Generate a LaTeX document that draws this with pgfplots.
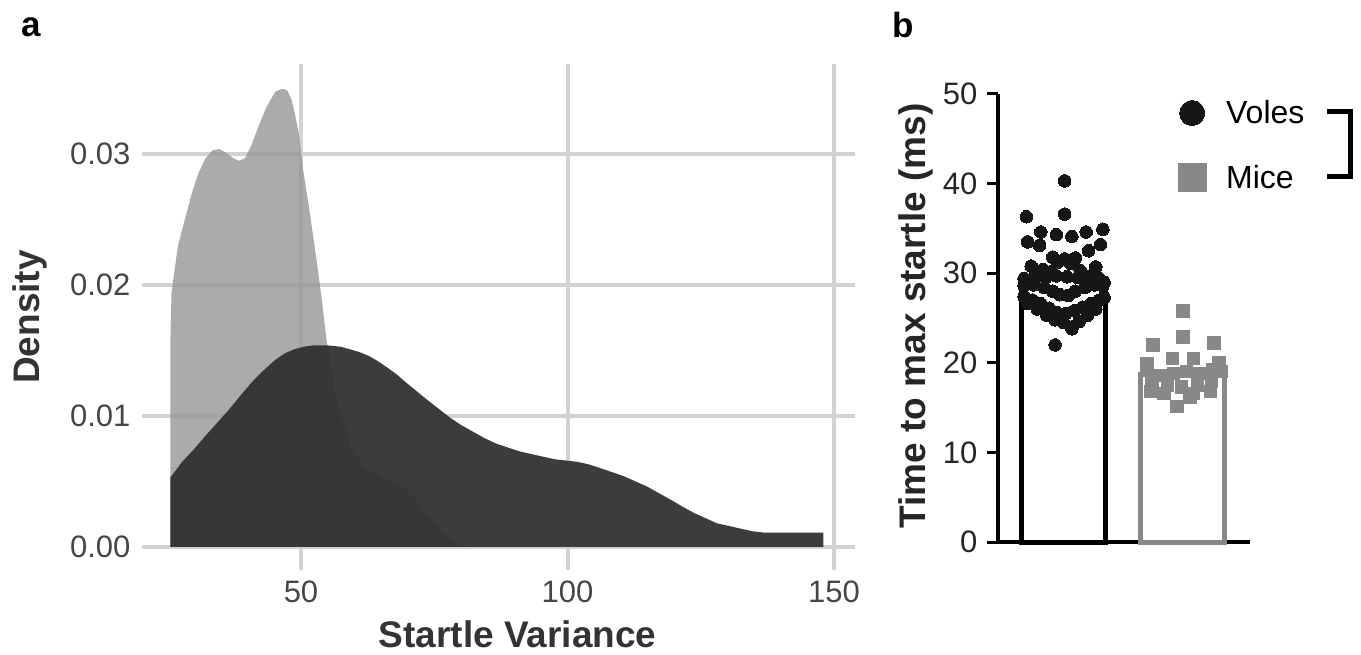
\documentclass[border=0pt]{standalone}
\usepackage{fontspec}
\setmainfont{Liberation Sans}
\usepackage{pgfplots}
\pgfplotsset{compat=1.18}
\definecolor{gridc}{RGB}{210,210,210}
\definecolor{lightf}{RGB}{150,150,150}
\definecolor{darkf}{RGB}{50,50,50}
\definecolor{ticktxt}{RGB}{70,70,70}
\definecolor{titletxt}{RGB}{51,51,51}
\definecolor{micegray}{RGB}{136,136,136}
\definecolor{voleblack}{RGB}{22,22,22}
\newcommand{\tickfont}{\fontsize{31}{36}\selectfont}
\newcommand{\titlefont}{\fontsize{37}{42}\selectfont\bfseries}

\pgfplotstableread{
x y
25.5 0.0000
25.5 0.0158
25.7 0.0194
26.9 0.0230
28.2 0.0250
29.5 0.0270
30.8 0.0286
32.1 0.0297
33.4 0.0303
34.7 0.0304
36.0 0.0301
37.3 0.0297
38.4 0.0295
39.5 0.0297
40.8 0.0308
42.1 0.0322
43.5 0.0336
45.2 0.0348
46.5 0.0350
47.4 0.0349
48.2 0.0342
48.7 0.0334
49.6 0.0316
50.4 0.0288
51.3 0.0265
52.2 0.0240
53.1 0.0214
53.9 0.0189
54.8 0.0158
55.6 0.0138
56.5 0.0118
57.8 0.0097
59.2 0.0079
60.5 0.0069
61.8 0.0062
64.0 0.0056
66.1 0.0051
69.6 0.0044
71.4 0.0037
73.1 0.0029
75.0 0.0019
76.6 0.0011
78.5 0.0004
80.1 0.0001
82.0 0.0000
}\micetable

\pgfplotstableread{
x y
25.5 0.0000
25.5 0.0053
27.7 0.0065
30.0 0.0075
32.1 0.0085
34.3 0.0095
36.5 0.0105
38.7 0.0116
40.8 0.0126
43.0 0.0135
45.2 0.0143
47.0 0.0148
48.7 0.0151
50.5 0.0153
52.2 0.0154
55.0 0.0154
57.4 0.0153
59.2 0.0151
60.9 0.0149
62.7 0.0146
64.4 0.0142
66.2 0.0137
67.9 0.0132
69.6 0.0126
71.4 0.0120
73.5 0.0113
75.7 0.0106
77.9 0.0099
80.1 0.0093
82.3 0.0088
84.5 0.0083
86.6 0.0079
88.8 0.0076
91.0 0.0073
93.2 0.0071
95.4 0.0069
97.6 0.0067
99.8 0.0066
101.9 0.0065
104.1 0.0063
106.3 0.0060
108.5 0.0057
110.6 0.0054
112.8 0.0050
115.0 0.0046
117.2 0.0041
119.4 0.0036
121.5 0.0031
123.7 0.0026
125.9 0.0022
128.1 0.0018
130.3 0.0016
132.5 0.0014
134.7 0.0012
136.8 0.0011
141.2 0.0011
148.0 0.0011
148.0 0.0000
}\volestable

\begin{document}
\begin{tikzpicture}[x=1pt,y=1pt]
\useasboundingbox (0,0) rectangle (1361,654);
\node[anchor=base west, font=\fontsize{35}{40}\selectfont\bfseries, inner sep=0pt] at (21,617) {a};
\node[anchor=base west, font=\fontsize{35}{40}\selectfont\bfseries, inner sep=0pt] at (892,616) {b};

\begin{axis}[at={(142pt,84pt)}, anchor=south west, scale only axis,
  width=713pt, height=506pt,
  xmin=20.17, xmax=153.94, ymin=-0.00176, ymax=0.0369,
  axis line style={draw=none}, major tick length=0pt,
  xtick={50,100,150}, ytick={0,0.01,0.02,0.03},
  yticklabels={0.00,0.01,0.02,0.03},
  scaled y ticks=false,
  grid=major, major grid style={line width=4pt, color=gridc},
  tick label style={font=\tickfont, text=ticktxt},
  /pgf/number format/assume math mode=true,
  xticklabel style={yshift=-7pt},
  yticklabel style={xshift=-8pt},
  xlabel={Startle Variance}, ylabel={Density},
  every axis x label/.style={at={(axis description cs:0.527,-0.154)}, anchor=base, font=\titlefont, text=titletxt},
  every axis y label/.style={at={(axis description cs:-0.144,0.5)}, rotate=90, anchor=base, font=\titlefont, text=titletxt},
]
\addplot[draw=none, fill=lightf, fill opacity=0.8] table {\micetable} \closedcycle;
\addplot[draw=none, fill=darkf, fill opacity=0.95] table {\volestable} \closedcycle;
\end{axis}

\begin{axis}[at={(998pt,112pt)}, anchor=south west, scale only axis,
  width=252pt, height=448pt,
  xmin=-0.548, xmax=1.561, ymin=0, ymax=50,
  axis x line=bottom, axis y line=left,
  axis line style={line width=4pt, -, black},
  xtick=\empty, ytick={0,10,20,30,40,50},
  tick align=outside, major tick length=11pt,
  every tick/.style={line width=3pt, black},
  tick label style={font=\tickfont, text=black!85},
  yticklabel style={xshift=-6pt},
  /pgf/number format/assume math mode=true,
  ylabel={Time to max startle (ms)},
  every axis y label/.style={at={(axis description cs:-0.2897,0.5045)}, rotate=90, anchor=base, font=\titlefont, text=black!85},
  clip=false,
  legend image code/.code={\draw[#1] plot coordinates {(0pt,0pt)};},
  legend style={at={(axis description cs:0.714,0.99)}, anchor=north west, draw=none, fill=none,
     font=\fontsize{32}{38}\selectfont, row sep=36pt, inner sep=0pt,
     /tikz/every odd column/.append style={column sep=18pt}},
  legend cell align=left,
]
\addplot[ybar, bar width=84pt, bar shift=0pt, draw=black, line width=5pt, fill=white, forget plot] coordinates {(0,29.4)};
\addplot[ybar, bar width=84pt, bar shift=0pt, draw=micegray, line width=5pt, fill=white, forget plot] coordinates {(1,18.7)};

\addplot[only marks, color=voleblack, mark=*, mark size=6.3pt, mark options={draw=voleblack, fill=voleblack, line width=0pt}, forget plot] coordinates {
(0.01,40.3) (-0.31,36.3) (0.01,36.6) (-0.19,34.6) (-0.06,34.3) (0.07,34.1) (0.19,34.6) (0.33,34.9)
(-0.30,33.5) (-0.20,33.1) (0.31,33.2) (0.21,32.5) (-0.09,31.8) (0.01,31.6) (0.10,31.7) (-0.27,30.8)
(0.27,30.7) (-0.17,30.4) (-0.05,31.2) (0.06,31.1) (0.14,30.3) (-0.10,30.2)
(-0.33,29.4) (-0.24,29.6) (-0.15,29.5) (-0.06,29.7) (0.03,29.6) (0.12,29.5) (0.21,29.6) (0.30,29.4) (0.34,29.0)
(-0.33,28.6) (-0.25,28.7) (-0.16,28.4) (-0.09,28.0) (0.10,28.0) (0.18,28.4) (0.26,28.7) (0.33,28.6)
(-0.03,27.6) (0.04,27.5)
(-0.33,27.4) (-0.26,27.0) (-0.19,26.6) (-0.12,26.1) (-0.05,25.6) (0.02,25.5) (0.09,25.8) (0.16,26.2) (0.23,26.6) (0.30,27.0) (0.34,27.3)
(-0.30,26.6) (-0.22,26.0) (-0.14,25.3) (-0.07,24.8) (0.00,24.5) (0.07,24.0) (0.13,24.6) (0.20,25.3) (0.27,26.0)
(0.07,23.8) (-0.07,22.0)
};

\addplot[only marks, color=micegray, mark=square*, mark size=6.2pt, mark options={draw=micegray, fill=micegray, line width=0pt}, forget plot] coordinates {
(1.00,25.8) (0.75,22.0) (1.00,22.9) (1.26,22.2) (0.70,19.9) (0.91,20.5) (1.09,20.5) (1.30,20.0)
(0.70,19.2) (0.81,18.6) (0.92,18.8) (1.03,19.0) (1.14,18.8) (1.25,19.2) (1.32,19.0)
(0.74,17.9) (0.87,17.5) (0.99,17.3) (1.12,17.5) (1.24,17.9)
(0.73,16.8) (0.84,16.6) (1.09,16.6) (1.23,16.8)
(0.95,15.1) (1.06,16.2)
};

\addlegendimage{only marks, color=voleblack, mark=*, mark size=12.5pt, mark options={draw=voleblack, fill=voleblack, line width=0pt}}
\addlegendentry{Voles}
\addlegendimage{only marks, color=micegray, mark=square*, mark size=14pt, mark options={draw=micegray, fill=micegray, line width=0pt}}
\addlegendentry{Mice}
\end{axis}

\draw[line width=5pt, line join=miter] (1327,542) -- (1350,542) -- (1350,477) -- (1327,477);
\end{tikzpicture}
\end{document}
